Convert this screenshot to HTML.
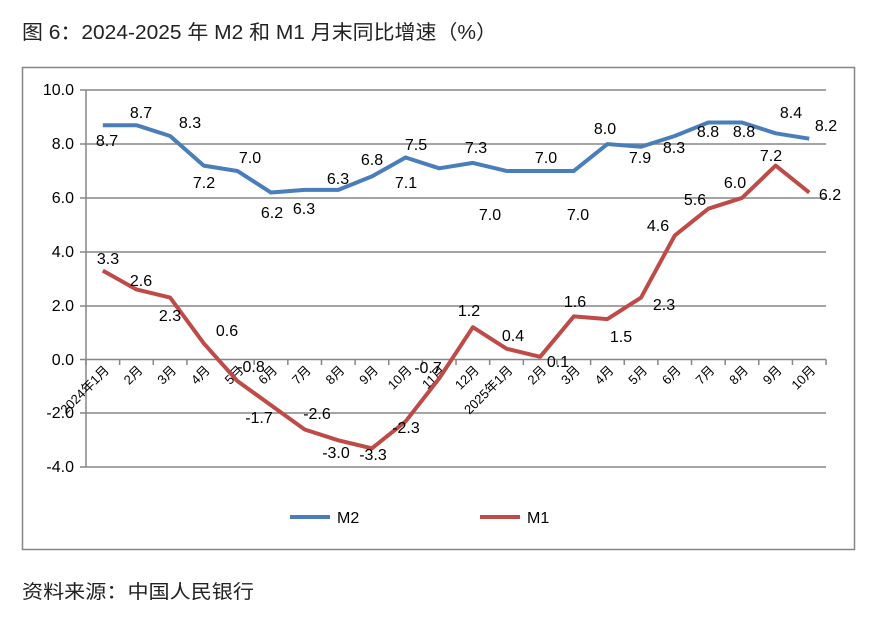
<!DOCTYPE html>
<html><head><meta charset="utf-8"><style>
body{margin:0;background:#fff;width:879px;height:627px;overflow:hidden;font-family:"Liberation Sans","Noto Sans CJK SC",sans-serif}
</style></head><body>
<svg width="879" height="627" xmlns="http://www.w3.org/2000/svg" font-family="Liberation Sans, Noto Sans CJK SC, sans-serif">
<text x="22" y="39" font-size="20" fill="#222" textLength="475" lengthAdjust="spacingAndGlyphs">图 6：2024-2025 年 M2 和 M1 月末同比增速（%）</text>
<rect x="22.5" y="67.5" width="832" height="482" fill="none" stroke="#868686" stroke-width="1.5"/>
<g stroke="#868686" stroke-width="1.5">
<line x1="86" y1="90" x2="826" y2="90"/><line x1="86" y1="144" x2="826" y2="144"/>
<line x1="86" y1="198" x2="826" y2="198"/><line x1="86" y1="252" x2="826" y2="252"/>
<line x1="86" y1="306" x2="826" y2="306"/><line x1="80" y1="359.5" x2="826" y2="359.5"/>
<line x1="86" y1="413" x2="826" y2="413"/><line x1="86" y1="467" x2="826" y2="467"/>
<line x1="86" y1="90" x2="86" y2="467"/>
<line x1="80" y1="90" x2="86" y2="90"/><line x1="80" y1="144" x2="86" y2="144"/><line x1="80" y1="198" x2="86" y2="198"/><line x1="80" y1="252" x2="86" y2="252"/><line x1="80" y1="306" x2="86" y2="306"/><line x1="80" y1="413" x2="86" y2="413"/><line x1="80" y1="467" x2="86" y2="467"/>
</g>
<g id="ticks" stroke="#868686" stroke-width="1.5"></g>
<g font-size="16" fill="#000" text-anchor="end">
<text x="74" y="95">10.0</text><text x="74" y="149">8.0</text><text x="74" y="203">6.0</text><text x="74" y="257">4.0</text><text x="74" y="311">2.0</text><text x="74" y="365">0.0</text><text x="74" y="418">-2.0</text><text x="74" y="472">-4.0</text>
</g>
<g id="xl" font-size="13" fill="#000" text-anchor="end"></g>
<polyline id="m2" fill="none" stroke="#4a7ebb" stroke-width="4" stroke-linejoin="round"/>
<polyline id="m1" fill="none" stroke="#be4b48" stroke-width="4" stroke-linejoin="round"/>
<g id="dl" font-size="16" fill="#000" text-anchor="middle"></g>
<line x1="290" y1="517" x2="330" y2="517" stroke="#4a7ebb" stroke-width="4"/>
<text x="337" y="523" font-size="16">M2</text>
<line x1="480" y1="517" x2="520" y2="517" stroke="#be4b48" stroke-width="4"/>
<text x="527" y="523" font-size="16">M1</text>
<text x="22" y="598" font-size="19" fill="#222" textLength="232" lengthAdjust="spacingAndGlyphs">资料来源：中国人民银行</text>
</svg>
<script>
var ns="http://www.w3.org/2000/svg";
var m2=[8.7,8.7,8.3,7.2,7.0,6.2,6.3,6.3,6.8,7.5,7.1,7.3,7.0,7.0,7.0,8.0,7.9,8.3,8.8,8.8,8.4,8.2];
var m1=[3.3,2.6,2.3,0.6,-0.8,-1.7,-2.6,-3.0,-3.3,-2.3,-0.7,1.2,0.4,0.1,1.6,1.5,2.3,4.6,5.6,6.0,7.2,6.2];
var labs=["2024年1月","2月","3月","4月","5月","6月","7月","8月","9月","10月","11月","12月","2025年1月","2月","3月","4月","5月","6月","7月","8月","9月","10月"];
function X(i){return 86+33.64*(i+0.5)}function Y(v){return 359.5-v*26.93}
document.getElementById("m2").setAttribute("points",m2.map((v,i)=>X(i)+","+Y(v)).join(" "));
document.getElementById("m1").setAttribute("points",m1.map((v,i)=>X(i)+","+Y(v)).join(" "));
var t=document.getElementById("ticks"),xl=document.getElementById("xl");
for(var i=0;i<=22;i++){var l=document.createElementNS(ns,"line");var x=86+33.64*i;l.setAttribute("x1",x);l.setAttribute("x2",x);l.setAttribute("y1",359.5);l.setAttribute("y2",365);t.appendChild(l);}
labs.forEach(function(s,i){var e=document.createElementNS(ns,"text");var x=X(i)+7,y=371;e.setAttribute("x",x);e.setAttribute("y",y);e.setAttribute("transform","rotate(-45 "+x+" "+y+")");e.textContent=s;xl.appendChild(e);});
var p2=[[107,140],[141,112],[190,122],[204,182],[250,157],[272,212],[304,208],[338,178],[372,159],[416,144],[406,182],[476,147],[490,214],[546,157],[578,214],[605,128],[640,157],[674,147],[708,131],[744,131],[791,112],[826,125]];
var p1=[[108,258],[141,280],[170,315],[227,330],[251,366],[259,417],[317,413],[336,452],[373,454],[406,427],[428,367],[469,310],[513,335],[558,361],[575,301],[621,336],[664,304],[658,225],[695,199],[735,182],[771,155],[830,194]];
var dl=document.getElementById("dl");
function add(p,v){var e=document.createElementNS(ns,"text");e.setAttribute("x",p[0]);e.setAttribute("y",p[1]+6);e.textContent=v.toFixed(1);dl.appendChild(e);}
m2.forEach((v,i)=>add(p2[i],v));m1.forEach((v,i)=>add(p1[i],v));
</script>
</body></html>
